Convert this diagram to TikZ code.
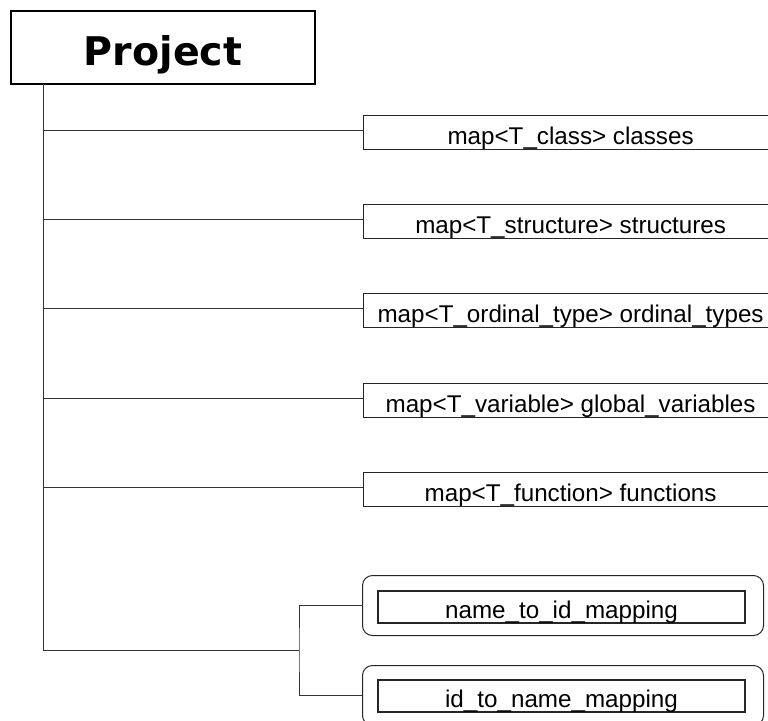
\documentclass[tikz,border=0pt]{standalone}
\usepackage{fontspec}
\setmainfont{Liberation Sans}
\newfontfamily\projfont{DejaVu Sans}
\begin{document}
\begin{tikzpicture}[x=1pt,y=-1pt,
  conn/.style={draw=black!80,line width=1pt},
  projbox/.style={draw=black,line width=2pt,rectangle,inner sep=0pt,
    minimum width=304pt,minimum height=73pt,
    text height=54pt,text depth=19pt,
    font=\projfont\bfseries\fontsize{39.5}{41}\selectfont},
  mapbox/.style={draw=black!85,line width=1.2pt,rectangle,inner xsep=0pt,inner ysep=0pt,
    minimum width=414pt,minimum height=34pt,
    text height=28.5pt,text depth=5.5pt,anchor=north west,
    font=\fontsize{24.2}{26}\selectfont},
  outerbox/.style={draw=black!85,line width=1pt,rectangle,rounded corners=10pt,
    inner sep=0pt,minimum width=401pt,minimum height=60pt,anchor=north west},
  innerbox/.style={draw=black!85,line width=1.2pt,rectangle,inner sep=0pt,
    minimum width=367pt,minimum height=32pt,
    text height=27pt,text depth=5pt,
    font=\fontsize{24.2}{26}\selectfont}
]
\clip (0,0) rectangle (768,720);
\fill[white] (0,0) rectangle (768,720);

\node[projbox] (proj) at (163,47.5) {Project};

\node[mapbox] (c1) at (363,115) {map<T\_class> classes};
\node[mapbox] (c2) at (363,204) {map<T\_structure> structures};
\node[mapbox] (c3) at (363,293) {map<T\_ordinal\_type> ordinal\_types};
\node[mapbox] (c4) at (363,383) {map<T\_variable> global\_variables};
\node[mapbox] (c5) at (363,472) {map<T\_function> functions};

\node[outerbox] (o1) at (362,575) {};
\node[innerbox] (n1) at (561.5,607) {name\_to\_id\_mapping};
\node[outerbox] (o2) at (362,665) {};
\node[innerbox] (n2) at (561.5,696) {id\_to\_name\_mapping};

\coordinate (trunktop) at (43,84);
\coordinate (trunkbot) at (43,650);
\coordinate (fork) at (299,650);

\draw[conn] (trunktop) -- (trunkbot) -- (fork);
\foreach \c in {c1,c2,c3,c4,c5}{
  \draw[conn] ([yshift=2.5pt]\c.west) -- ([yshift=2.5pt]\c.west -| trunktop);
}
\draw[conn] (o1.west) -| (fork) |- (o2.west);
\end{tikzpicture}
\end{document}
